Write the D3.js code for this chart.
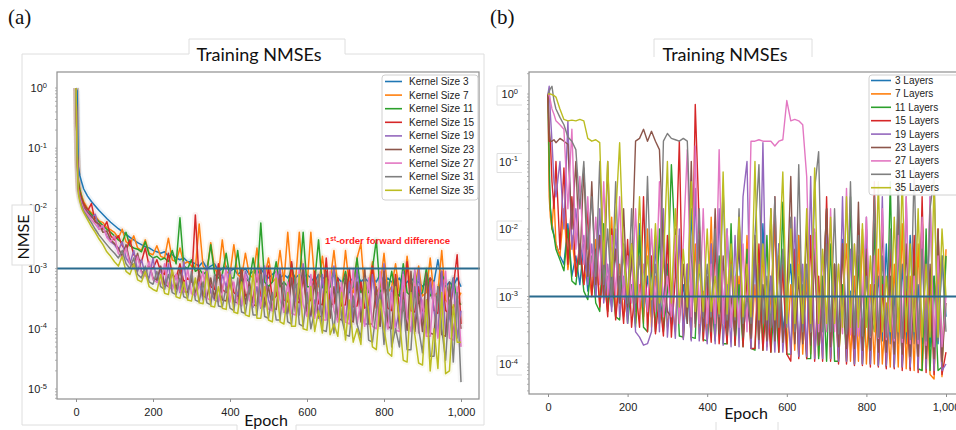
<!DOCTYPE html>
<html>
<head>
<meta charset="utf-8">
<script src="https://cdn.jsdelivr.net/npm/d3@7/dist/d3.min.js"></script>
<style>
body { margin: 0; background: #fff; }
</style>
</head>
<body>
<svg width="956" height="430" font-family="Liberation Sans, Arial, sans-serif"></svg>
<script>
// ---- data ----
var epochs = [0,3,6,10,15,20,
  30,40,50,60,70,80,90,100,
  110,120,130,140,150,160,170,180,190,200,
  210,220,230,240,250,260,270,280,290,300,
  310,320,330,340,350,360,370,380,390,400,
  410,420,430,440,450,460,470,480,490,500,
  510,520,530,540,550,560,570,580,590,600,
  610,620,630,640,650,660,670,680,690,700,
  710,720,730,740,750,760,770,780,790,800,
  810,820,830,840,850,860,870,880,890,900,
  910,920,930,940,950,960,970,980,990,1000];

var kernelLabels = ["Kernel Size 3","Kernel Size 7","Kernel Size 11","Kernel Size 15","Kernel Size 19",
  "Kernel Size 23","Kernel Size 27","Kernel Size 31","Kernel Size 35"];
var layerLabels = ["3 Layers","7 Layers","11 Layers","15 Layers","19 Layers",
  "23 Layers","27 Layers","31 Layers","35 Layers"];
var xTicks = [0,200,400,600,800,1000];
var yTickExpA = [0,-1,-2,-3,-4,-5];
var yTickExpB = [0,-1,-2,-3,-4];
var threshold = 1e-3;

// (a) kernel size
var nmseK3 = [1,0.9,0.05,0.035,0.027,0.021,
  0.016,0.013,0.011,0.0092,0.0079,0.0068,0.0059,0.0052,
  4.6e-3,4.1e-3,3.7e-3,3.3e-3,3e-3,2.7e-3,2.5e-3,2.3e-3,2.2e-3,2e-3,
  1.9e-3,1.8e-3,1.9e-3,1.6e-3,1.7e-3,1.5e-3,1.4e-3,1.5e-3,1.3e-3,1.3e-3,
  1.2e-3,1.1e-3,1.3e-3,1e-3,1.1e-3,1.2e-3,9e-4,1e-3,1.1e-3,9e-4,
  1e-3,8e-4,9e-4,1e-3,8e-4,9e-4,8e-4,1e-3,8e-4,7e-4,
  8e-4,9e-4,7e-4,8e-4,7e-4,9e-4,7e-4,8e-4,7e-4,8e-4,
  7e-4,6e-4,8e-4,7e-4,7e-4,6e-4,8e-4,7e-4,6e-4,7e-4,
  6e-4,7e-4,8e-4,6e-4,7e-4,6e-4,7e-4,6e-4,8e-4,6e-4,
  7e-4,6e-4,6e-4,7e-4,5e-4,6e-4,7e-4,6e-4,6e-4,5e-4,
  6e-4,7e-4,6e-4,1.4e-3,6e-4,5e-4,6e-4,5e-4,7e-4,5e-4];
var nmseK7 = [1,0.1,0.03,0.021,0.016,0.013,
  0.01,0.0085,0.0075,0.0062,0.0058,0.0048,0.0044,0.004,
  3.2e-3,4.5e-3,2.8e-3,2.5e-3,3.5e-3,2.2e-3,2e-3,3e-3,1.8e-3,1.7e-3,
  2.4e-3,1.6e-3,1.5e-3,3.2e-3,1.4e-3,1.3e-3,2.2e-3,1.2e-3,1.3e-3,1.1e-3,
  1e-3,5.5e-3,1.1e-3,9e-4,2.7e-3,1e-3,8e-4,3e-3,9e-4,8e-4,
  2.5e-3,8e-4,7e-4,1.8e-3,8e-4,7e-4,2.2e-3,6e-4,7e-4,1.5e-3,
  6e-4,7e-4,2e-3,6e-4,4e-3,7e-4,6e-4,4e-3,6e-4,5e-4,
  4e-3,6e-4,5e-4,1.6e-3,5e-4,6e-4,2e-3,5e-4,4e-4,2e-3,
  5e-4,4e-4,1.5e-3,2.6e-3,4e-4,5e-4,1.3e-3,4e-4,5e-4,1.8e-3,
  4e-4,5e-4,1.2e-3,4e-4,3.5e-4,1.6e-3,4e-4,5e-4,1.1e-3,3.5e-4,
  4e-4,1.5e-3,3.5e-4,4e-4,2e-3,3e-4,2.5e-4,2.2e-4,3e-4,4e-4];
var nmseK11 = [1,0.08,0.028,0.02,0.015,0.012,
  0.0095,0.008,0.007,0.006,0.0052,0.0045,0.004,0.0035,
  3e-3,2.7e-3,4e-3,2.4e-3,2.2e-3,2.1e-3,1.9e-3,2.8e-3,1.7e-3,1.5e-3,
  1.6e-3,1.4e-3,1.5e-3,1.3e-3,2e-3,1.2e-3,7e-3,1.1e-3,1e-3,1.4e-3,
  9e-4,1e-3,8e-4,9e-4,2.5e-3,8e-4,7e-4,8e-4,1.8e-3,7e-4,
  7e-4,2e-3,6e-4,7e-4,6e-4,1.5e-3,6e-4,5.7e-3,6e-4,5e-4,
  6e-4,1.3e-3,5e-4,6e-4,5e-4,1.2e-3,5e-4,6e-4,4e-3,5e-4,
  5e-4,6e-4,3e-3,5e-4,4e-4,5e-4,1e-3,4e-4,5e-4,9e-4,
  4e-4,5e-4,1.5e-3,4e-4,5e-4,4e-4,1e-3,3e-3,4e-4,5e-4,
  4e-4,9e-4,4e-4,3.5e-4,1.2e-3,4e-4,3.5e-4,9e-4,3.5e-4,4e-4,
  1e-3,3.5e-4,4e-4,3e-4,8e-4,6e-4,3.5e-4,7e-4,3e-4,2.5e-4];
var nmseK15 = [1,0.09,0.025,0.018,0.014,0.012,
  0.009,0.012,0.006,0.0055,0.0045,0.006,0.0035,0.003,
  3.5e-3,2.4e-3,2e-3,3e-3,1.7e-3,1.5e-3,1.3e-3,2.2e-3,1.1e-3,1e-3,
  1.4e-3,9e-4,8e-4,1.8e-3,8e-4,7e-4,1.2e-3,6e-4,7e-4,6e-4,
  7.8e-3,6e-4,5e-4,9e-4,5e-4,4.5e-4,1.2e-3,4.5e-4,4e-4,8e-4,
  4e-4,3.5e-4,1e-3,3.5e-4,4e-4,3e-4,9e-4,3.5e-4,3e-4,1.1e-3,
  3e-4,3.5e-4,8e-4,3e-4,2.8e-4,1.3e-3,3e-4,2.7e-4,7e-4,2.6e-4,
  3e-4,9e-4,2.6e-4,2.5e-4,1.5e-3,2.5e-4,2.6e-4,7e-4,2.4e-4,2.5e-4,
  1e-3,2.3e-4,2.4e-4,6e-4,2.2e-4,2.4e-4,1.1e-3,2.2e-4,2.1e-4,6e-4,
  2.2e-4,2e-4,8e-4,2.1e-4,2e-4,1.3e-3,2e-4,1.9e-4,5e-4,2e-4,
  1.9e-4,7e-4,2e-4,1.8e-4,9e-4,2e-4,1.8e-4,5e-4,1.7e-3,1.2e-4];
var nmseK19 = [1,0.08,0.02,0.015,0.012,0.01,
  0.009,0.007,0.008,0.0045,0.005,0.0035,0.0028,0.0025,
  2e-3,2.8e-3,1.5e-3,1.2e-3,2e-3,9e-4,1.4e-3,8e-4,7e-4,1.5e-3,
  6e-4,1e-3,5e-4,1.2e-3,4.5e-4,8e-4,4e-4,1.3e-3,4e-4,7e-4,
  3.5e-4,6e-4,3e-4,1.1e-3,4e-4,3e-4,2.8e-4,8e-4,5e-4,1e-3,
  2.5e-4,4e-4,2.4e-4,9e-4,6e-4,2.3e-4,5e-4,2.2e-4,1.1e-3,3e-4,
  2e-4,5e-4,1e-3,1.9e-4,1.8e-4,7e-4,3e-4,1.7e-4,1.2e-3,4e-4,
  1.6e-4,3e-4,1.5e-4,8e-4,1.5e-4,2.5e-4,1.1e-3,1.4e-4,4e-4,1.3e-4,
  6e-4,1.3e-4,1e-3,2e-4,1.2e-4,1.2e-4,8e-4,3e-4,1.1e-4,1.2e-3,
  1e-4,5e-4,1e-4,2e-4,9e-4,9.5e-5,4e-4,9e-5,1e-3,1.5e-4,
  8.5e-5,6e-4,2e-4,8e-5,9e-4,8e-5,1.5e-4,7e-4,7e-5,2e-4];
var nmseK23 = [1,0.08,0.022,0.016,0.013,0.0105,
  0.0085,0.0075,0.006,0.0055,0.004,0.0042,0.003,0.0026,
  2.2e-3,1.6e-3,2.5e-3,1.3e-3,1.1e-3,1.8e-3,9e-4,8e-4,1.2e-3,7e-4,
  6.5e-4,1.1e-3,5.5e-4,5e-4,9e-4,4.5e-4,1e-3,4.2e-4,4e-4,7e-4,
  3.8e-4,9e-4,3.5e-4,3.3e-4,7e-4,3.2e-4,1e-3,3e-4,2.9e-4,6e-4,
  2.8e-4,2.7e-4,9e-4,2.6e-4,6e-4,2.5e-4,2.4e-4,1e-3,2.3e-4,5e-4,
  2.2e-4,2.1e-4,8e-4,2e-4,1.9e-4,7e-4,1.9e-4,4e-4,1e-3,1.8e-4,
  1.7e-4,6e-4,1.6e-4,1.6e-4,9e-4,1.5e-4,5e-4,1.5e-4,1.4e-4,8e-4,
  1.4e-4,1.3e-4,6e-4,1.3e-4,1e-3,1.2e-4,1.2e-4,5e-4,1.1e-4,9e-4,
  1.1e-4,1e-4,7e-4,1e-4,4e-4,9.5e-5,9e-4,9e-5,3.5e-4,9e-5,
  8.5e-4,8.5e-5,8e-5,5e-4,8e-5,7.5e-5,6e-4,7.5e-5,3e-4,1e-4];
var nmseK27 = [1,0.08,0.021,0.015,0.012,0.0098,
  0.008,0.0065,0.0055,0.0045,0.0052,0.0033,0.0028,0.0035,
  1.8e-3,1.5e-3,2.2e-3,1.2e-3,1e-3,1.6e-3,8.5e-4,7.5e-4,1.3e-3,6.5e-4,
  6e-4,5.5e-4,1.2e-3,5e-4,4.5e-4,8e-4,4.2e-4,4e-4,1e-3,3.8e-4,
  3.6e-4,5e-4,9e-4,3.2e-4,3e-4,7e-4,2.9e-4,4e-4,1e-3,2.8e-4,
  6e-4,2.6e-4,2.5e-4,8e-4,3e-4,2.4e-4,1e-3,2.3e-4,4e-4,2.1e-4,
  2e-4,9e-4,3e-4,1.9e-4,6e-4,1.8e-4,1.7e-4,1e-3,2.5e-4,1.6e-4,
  8e-4,1.5e-4,4e-4,1.4e-4,1.4e-4,9e-4,2e-4,1.3e-4,6e-4,1.3e-4,
  1.2e-4,1e-3,1.2e-4,3e-4,1.1e-4,7e-4,1.1e-4,1e-4,9e-4,2e-4,
  1e-4,4e-4,9.5e-5,9e-5,8e-4,1.5e-4,9e-5,1e-3,8.5e-5,3e-4,
  7.5e-5,7.5e-5,6e-4,7e-5,2e-4,9e-4,7e-5,6.5e-5,5e-4,5e-5];
var nmseK31 = [1,0.08,0.02,0.014,0.011,0.009,
  0.0072,0.0058,0.0045,0.0036,0.003,0.0025,0.0021,0.0018,
  1.5e-3,2e-3,1.2e-3,1e-3,1.5e-3,8e-4,7e-4,1.1e-3,6e-4,5.5e-4,
  9e-4,5e-4,4.5e-4,8e-4,4e-4,3.7e-4,7e-4,3.4e-4,3.2e-4,9e-4,
  3e-4,2.8e-4,6e-4,2.7e-4,2.5e-4,8e-4,2.4e-4,2.3e-4,5e-4,2.2e-4,
  2e-4,7e-4,1.9e-4,1.8e-4,5e-4,1.7e-4,1.7e-4,8e-4,1.6e-4,1.5e-4,
  4e-4,1.4e-4,1.4e-4,6e-4,1.3e-4,1.2e-4,7e-4,1.2e-4,1.1e-4,4e-4,
  1e-4,2e-4,8e-4,9.5e-5,9e-5,3e-4,8.5e-5,6e-4,1.5e-4,8e-5,
  7.5e-5,3.5e-4,1.2e-4,7e-5,7e-4,6.5e-5,6e-5,2e-4,4e-4,5.5e-5,
  6e-4,5e-5,1e-4,5e-5,3e-4,4.5e-5,4.5e-5,5e-4,1e-4,4e-5,
  3e-4,3.5e-5,3.5e-5,5e-4,1e-4,3e-5,3e-4,2.8e-5,4e-4,1.3e-5];
var nmseK35 = [1,0.06,0.018,0.013,0.01,0.0085,
  0.0065,0.005,0.004,0.0031,0.0025,0.0019,0.0016,0.0013,
  1.1e-3,1.6e-3,9e-4,8e-4,1.2e-3,6.5e-4,6e-4,9e-4,5e-4,4.5e-4,
  4.2e-4,8e-4,3.9e-4,3.7e-4,1e-3,3.4e-4,3.2e-4,6e-4,3e-4,2.9e-4,
  7e-4,2.7e-4,2.6e-4,9e-4,2.4e-4,2.3e-4,5e-4,2.2e-4,2.1e-4,8e-4,
  1.9e-4,1.8e-4,6e-4,1.7e-4,1.6e-4,9e-4,1.5e-4,1.5e-4,5e-4,1.4e-4,
  1.3e-4,7e-4,1.3e-4,1.2e-4,4e-4,1.1e-4,1.1e-4,8e-4,1e-4,9.5e-5,
  5e-4,9e-5,2e-4,8.5e-5,7e-4,8e-5,1.2e-4,7.5e-5,4e-4,6.5e-5,
  3e-4,6e-5,1e-4,5.5e-5,6e-4,2e-4,5e-5,4.5e-5,3e-4,1e-4,
  4e-5,3.5e-5,5e-4,1.5e-4,3e-5,2.8e-5,4e-4,8e-5,2.7e-5,2.5e-5,
  3e-4,2e-5,1e-4,2.2e-5,4e-4,1.8e-5,2e-5,2.5e-4,6e-5,6e-5];

// (b) number of layers
var nmseL3 = [1,0.05,0.02,0.012,0.008,0.006,
  0.004,0.003,0.012,0.002,0.004,0.0015,0.006,0.0012,
  3e-3,1e-3,8e-3,9e-4,2e-3,7e-4,5e-3,8e-4,1.5e-3,6e-4,
  4e-3,6e-4,1.2e-2,5e-4,2e-3,5e-4,6e-3,4e-4,1e-3,3e-3,
  4e-4,8e-3,5e-4,1.5e-3,4e-4,2e-2,4e-4,3e-3,5e-4,1e-3,
  6e-3,3.5e-4,2e-3,4e-4,1e-2,3.5e-4,1.5e-3,5e-3,3e-4,8e-4,
  3e-4,4e-3,3e-4,1.2e-2,4e-4,2e-3,3e-4,6e-3,3e-4,1e-3,
  3e-3,2.5e-4,8e-3,3e-4,1.5e-3,2.5e-4,5e-3,3e-4,1e-3,2e-2,
  2.5e-4,3e-3,2.5e-4,7e-3,2.5e-4,1.2e-3,3e-4,4e-3,2.2e-4,1e-2,
  2.2e-4,4e-4,2e-3,2.2e-4,6e-3,2e-4,1e-3,2e-4,3e-3,2e-4,
  8e-3,2e-4,1.5e-3,2e-4,5e-3,1.8e-4,2e-3,2e-4,4e-3,5e-4];
var nmseL7 = [1,0.03,0.015,0.01,0.03,0.006,
  0.004,0.02,0.0025,0.008,0.002,0.005,0.0015,0.003,
  1e-3,7e-3,8e-4,2e-3,6e-4,1.5e-2,5e-4,3e-3,5e-4,1e-3,
  6e-3,4e-4,1.5e-3,4e-4,1e-2,3.5e-4,2e-3,4e-4,5e-3,3.5e-4,
  1e-3,3e-4,8e-3,3e-4,2e-3,3e-4,6e-3,2.8e-4,1.2e-3,2.5e-4,
  1.5e-2,2.5e-4,3e-3,2.5e-4,1e-3,6e-3,2.2e-4,2e-3,2.2e-4,8e-3,
  2e-4,1.5e-3,2e-4,5e-3,1.8e-4,1e-3,1.2e-2,1.8e-4,3e-3,1.6e-4,
  1.5e-3,1.6e-4,8e-3,1.4e-4,2e-3,1.4e-4,5e-3,1.3e-4,1e-3,2e-2,
  1.2e-4,3e-3,1.2e-4,8e-4,6e-3,1.1e-4,2e-3,1.1e-4,1e-2,1e-4,
  1.5e-3,1e-4,5e-3,1e-4,8e-4,9e-5,3e-3,9e-5,1.2e-2,8.5e-5,
  2e-3,8e-5,6e-3,8e-5,1e-3,7e-5,6e-5,3e-3,6.5e-5,5e-3];
var nmseL11 = [1,0.1,0.02,0.01,0.008,0.005,
  0.0035,0.0024,0.01,0.0017,0.0015,0.005,0.0012,0.0009,
  4e-3,8e-4,6e-4,1.2e-2,6e-4,2e-3,5e-4,4.5e-4,6e-3,4e-4,
  1.5e-3,3.5e-4,8e-3,3.5e-4,3e-4,3e-3,3e-4,1e-2,3e-4,1.2e-3,
  9e-2,5e-3,2.6e-4,2.5e-4,2e-3,2.5e-4,2.4e-4,7e-3,2.3e-4,2.2e-4,
  1e-3,2.2e-4,4e-3,2e-4,2e-4,1.2e-2,1.9e-4,1.5e-3,1.8e-4,5e-3,
  1.7e-4,1.6e-4,3e-3,1.6e-4,8e-3,1.5e-4,1e-3,1.5e-4,2.5e-2,1.4e-4,
  1.4e-4,4e-3,1.3e-4,1.5e-3,1.2e-4,1.2e-4,9e-3,1.2e-4,2e-3,1.1e-4,
  6e-3,1.1e-4,1.1e-4,1.5e-3,1.1e-4,3e-2,1e-4,4e-3,1e-4,1e-3,
  1e-4,1.2e-2,9.5e-5,2e-3,9e-5,5e-2,9e-5,6e-3,9e-5,1.5e-3,
  8.5e-5,4e-3,8.5e-5,8e-5,1e-2,8e-5,2e-3,8e-5,9e-5,4e-3];
var nmseL15 = [1,0.2,0.2,0.05,0.02,0.1,
  0.005,0.08,0.003,0.03,0.002,0.006,0.0015,0.02,
  1e-3,5e-3,7e-4,3e-3,5e-4,1e-2,4.5e-4,2e-3,4e-4,7e-3,
  3.5e-4,1.5e-3,3.5e-4,3e-2,3e-4,4e-3,2.8e-4,1e-3,2.6e-4,8e-3,
  2.5e-4,2e-3,0.2,2.4e-4,3e-3,2.3e-4,0.7,1.2e-2,2.2e-4,1.5e-3,
  2.1e-4,6e-3,2e-4,1e-3,2e-4,4e-3,1.9e-4,1.5e-2,1.8e-4,2e-3,
  1.7e-4,1.7e-4,6e-3,1.6e-4,1e-3,1.5e-4,3e-2,1.5e-4,3e-3,1.4e-4,
  1.1e-4,5e-3,1.2e-4,1.2e-3,1.2e-4,8e-3,1.1e-4,2e-3,1.1e-4,3e-2,
  1.1e-4,1.5e-3,1e-4,6e-3,1e-4,1e-3,9.5e-5,1.2e-2,9.5e-5,3e-3,
  9e-5,5e-2,9e-5,1.5e-3,8.5e-5,6e-3,8.5e-5,3e-2,8e-5,1.2e-3,
  8e-5,8e-3,7.5e-5,3e-2,7.5e-5,2e-3,7e-5,1e-2,7e-5,1.5e-4];
var nmseL19 = [1,1.3,0.5,0.2,0.05,0.03,
  0.1,0.01,0.4,0.005,0.02,0.003,0.008,0.0015,
  6e-3,1e-3,2e-2,8e-4,3e-3,6e-4,1e-2,5e-4,2e-3,4e-4,
  5e-3,3e-4,2.5e-4,1.9e-4,2e-4,3e-4,8e-3,3e-4,2e-2,2.5e-4,
  1.5e-3,2.4e-4,1e-2,2.3e-4,3e-3,2.2e-4,4e-2,2.2e-4,1e-3,2e-4,
  6e-3,2e-4,2e-2,1.9e-4,1.5e-3,1.8e-4,8e-3,1.8e-4,3e-2,1e-1,
  1.7e-4,4e-3,1.7e-4,1.9e-1,1.6e-4,2e-3,1.5e-4,6e-3,1.5e-4,1e-3,
  1.4e-4,1.5e-2,1.3e-4,3e-3,1.3e-4,6e-2,1.2e-4,1e-3,1.2e-4,8e-3,
  1.2e-4,2e-3,1.1e-4,3e-2,1.1e-4,5e-3,1e-4,1e-3,1e-4,1.5e-2,
  1e-4,3e-3,9.5e-5,3e-2,9.5e-5,1.5e-3,9e-5,1e-2,9e-5,3e-2,
  9e-5,2e-3,8.5e-5,6e-3,8.5e-5,3e-2,8e-5,1.5e-3,8e-5,1e-4];
var nmseL23 = [1,0.3,0.2,0.2,0.21,0.19,
  0.22,0.2,0.18,0.01,0.1,0.003,0.08,0.002,
  0.05,1.5e-3,8e-3,1e-3,0.1,1e-3,5e-3,8e-4,2e-2,7e-4,
  3e-3,0.2,0.22,0.3,0.2,0.28,0.2,0.15,5e-3,6e-4,
  5e-4,1e-2,4e-4,3e-3,4e-4,0.1,3.5e-4,8e-3,3e-4,2e-3,
  3e-4,2e-2,2.8e-4,4e-3,2.7e-4,1e-3,2.6e-4,1.2e-2,2.5e-4,3e-3,
  2.4e-4,8e-3,2.3e-4,1.5e-3,2.2e-4,2e-2,2.2e-4,4e-3,2.1e-4,1e-3,
  6e-2,2e-4,2e-3,2e-4,1.2e-2,1.9e-4,4e-3,1.9e-4,8e-4,2e-2,
  1.8e-4,3e-3,1.8e-4,6e-3,1.7e-4,1e-3,1.7e-4,2.5e-2,1.6e-4,5e-3,
  1.6e-4,1.5e-3,1.5e-4,1.2e-2,1.5e-4,2e-3,1.4e-4,3e-2,1.4e-4,6e-3,
  1.3e-4,1e-3,1.3e-4,1.5e-2,1.2e-4,3e-3,1.2e-4,1e-2,1.1e-4,8e-4];
var nmseL27 = [1,0.95,0.8,0.6,0.5,0.4,
  0.35,0.3,0.02,0.3,0.005,0.06,0.003,0.03,
  2e-3,1.5e-2,1.5e-3,0.05,1e-3,8e-3,1e-3,0.03,9e-4,4e-3,
  8e-4,2e-2,7e-4,3e-3,6e-4,1e-2,6e-4,0.05,5e-4,2e-3,
  5e-4,8e-3,4e-4,6e-3,0.15,5e-4,0.17,4e-4,0.02,4e-4,
  3e-3,4e-4,0.15,4e-4,1e-2,3.5e-4,2e-3,3.5e-4,6e-3,3e-4,
  0.2,0.2,0.21,0.2,0.2,0.2,0.17,0.2,0.21,0.8,
  0.4,0.42,0.4,0.35,0.06,3e-4,1e-2,3e-4,4e-3,3e-4,
  2e-2,3e-4,3e-3,2.8e-4,0.04,2.7e-4,6e-3,2.6e-4,1e-3,1.5e-2,
  2.5e-4,4e-3,2.4e-4,2e-2,2.3e-4,1e-3,2.2e-4,8e-3,2.1e-4,3e-2,
  2e-4,2e-3,2e-4,1.5e-2,1.9e-4,3e-2,1.8e-4,4e-3,1.8e-4,1e-3];
var nmseL31 = [1,1.1,1.2,1.3,0.8,0.6,
  0.45,0.35,0.23,0.2,0.15,0.02,0.1,0.005,
  0.03,2e-3,0.1,1.5e-3,1e-2,1e-3,0.05,1e-3,5e-3,8e-4,
  2e-2,8e-4,4e-3,7e-4,0.06,7e-4,3e-3,6e-4,0.2,0.26,
  0.22,0.21,0.2,0.22,0.2,4e-3,6e-4,2e-2,5e-4,3e-3,
  5e-4,1e-2,5e-4,4e-2,4.5e-4,3e-3,4.5e-4,0.02,4e-4,1e-3,
  4e-4,8e-3,0.09,4e-4,2e-3,3.5e-4,0.03,3.5e-4,5e-3,3.5e-4,
  1.5e-2,3e-4,0.09,3e-4,3e-3,3e-4,0.04,0.14,3e-4,6e-3,
  3e-4,2e-2,2.8e-4,1e-3,2.8e-4,0.05,2.7e-4,8e-3,2.6e-4,2e-3,
  2.6e-4,3e-2,2.5e-4,4e-3,2.5e-4,1e-2,2.4e-4,0.05,2.4e-4,2e-3,
  2.3e-4,8e-2,2.3e-4,5e-3,2.2e-4,2e-2,0.06,2.2e-4,4e-3,3e-4];
var nmseL35 = [1,1,1,0.98,0.95,0.9,
  0.6,0.42,0.4,0.41,0.4,0.42,0.4,0.22,
  0.2,0.21,0.19,3e-3,0.1,2e-3,1.5e-2,0.19,4e-3,1e-3,
  6e-3,1e-3,0.03,1e-3,4e-3,9e-4,1.2e-2,8e-4,3e-3,0.1,
  8e-4,2e-2,7e-4,5e-3,7e-4,0.05,6e-4,3e-3,6e-4,1e-2,
  6e-4,2e-3,5.5e-4,0.07,5.5e-4,6e-3,5e-4,1.5e-2,5e-4,3e-3,
  5e-4,0.1,4.5e-4,6e-3,4.5e-4,2e-2,4.5e-4,3e-3,0.07,4e-4,
  1e-2,4e-4,3e-3,4e-4,2e-2,4e-4,0.08,4e-4,5e-3,4e-4,
  1.5e-2,4e-4,3e-3,3.5e-4,0.03,3.5e-4,6e-3,3.5e-4,1.2e-2,3.5e-4,
  4e-3,3e-4,0.05,3e-4,2e-3,3e-4,1.5e-2,3e-4,0.06,3e-4,
  6e-3,3e-4,0.02,2.5e-4,3e-3,2.5e-4,0.05,2.5e-4,1e-2,1e-3];

var colors = ["#1f77b4","#ff7f0e","#2ca02c","#d62728","#9467bd","#8c564b","#e377c2","#7f7f7f","#bcbd22"];

var svg = d3.select("svg");
var artifact = "#dedede";

// スクリーンショットの枠 (薄いグレー)
function framePath(d) {
  svg.append("path").attr("d", d).attr("fill", "none")
    .attr("stroke", artifact).attr("stroke-width", 1);
}
framePath("M22,425 V54 H189 V39 H345 V54 H484 V425 H296 V430 M237,430 V425 H22");
framePath("M654,57 V39 H812 V57");
framePath("M716,422 V430 M778,422 V430");

function drawPanel(p) {
  var x = d3.scaleLinear().domain([0, 1000]).range(p.xRange);
  var y = d3.scaleLog().domain([1, Math.pow(10, p.yExp[p.yExp.length - 1])]).range(p.yRange);
  var box = p.box; // [left, top, right, bottom]

  svg.append("clipPath").attr("id", p.id)
    .append("rect")
    .attr("x", box[0]).attr("y", box[1])
    .attr("width", box[2] - box[0]).attr("height", box[3] - box[1]);

  // 1. 線
  var line = d3.line()
    .x(function(d, i) { return x(epochs[i]); })
    .y(function(d) { return y(d); });

  var lg = svg.append("g").attr("clip-path", "url(#" + p.id + ")");
  if (p.halo) {
    p.series.forEach(function(s, k) {
      lg.append("path").attr("d", line(s)).attr("fill", "none")
        .attr("stroke", colors[k]).attr("stroke-width", 6)
        .attr("stroke-opacity", 0.07).attr("stroke-linejoin", "round");
    });
  }
  p.series.forEach(function(s, k) {
    lg.append("path").attr("d", line(s)).attr("fill", "none")
      .attr("stroke", colors[k]).attr("stroke-width", p.lw)
      .attr("stroke-linejoin", "round");
  });

  // 2. 1e-3 の線
  svg.append("line")
    .attr("x1", box[0]).attr("x2", p.hlineEnd)
    .attr("y1", y(threshold)).attr("y2", y(threshold))
    .attr("stroke", "#2a6b8e").attr("stroke-width", 2);

  // 3. 枠
  svg.append("rect")
    .attr("x", box[0]).attr("y", box[1])
    .attr("width", box[2] - box[0]).attr("height", box[3] - box[1])
    .attr("fill", "none").attr("stroke", "#8f8f8f").attr("stroke-width", 1.2);

  // 4. x軸
  var xa = svg.append("g")
    .attr("transform", "translate(0," + box[3] + ")")
    .call(d3.axisBottom(x).tickValues(xTicks).tickSize(3).tickPadding(6));
  xa.select(".domain").remove();
  xa.selectAll("line").attr("stroke", "#8f8f8f");
  xa.attr("font-size", 11).attr("font-family", "Liberation Sans, Arial, sans-serif");
  xa.selectAll("text").attr("fill", "#222");

  // 5. y軸 (補助目盛り)
  var yFull = d3.scaleLog().domain([y.invert(box[3]), y.invert(box[1])]);
  svg.append("g").selectAll("line")
    .data(yFull.ticks())
    .enter().append("line")
    .attr("x1", box[0] - 2).attr("x2", box[0])
    .attr("y1", function(d) { return y(d); })
    .attr("y2", function(d) { return y(d); })
    .attr("stroke", "#a0a0a0").attr("stroke-width", 0.8);

  if (p.labelBoxes) {
    p.yExp.forEach(function(e) {
      var ty = y(Math.pow(10, e));
      svg.append("path")
        .attr("d", "M" + (p.labelX + 4) + "," + (ty - 8) + " H" + (p.labelX - 21) +
          " V" + (ty + 11) + " H" + (p.labelX + 4))
        .attr("fill", "white").attr("stroke", artifact);
    });
  }

  var yl = svg.append("g").selectAll("text")
    .data(p.yExp)
    .enter().append("text")
    .attr("x", p.labelX)
    .attr("y", function(d) { return y(Math.pow(10, d)) + 4; })
    .attr("text-anchor", "end")
    .attr("font-size", 11).attr("fill", "#222");
  yl.append("tspan").text("10");
  yl.append("tspan").attr("dy", -4.5).attr("font-size", 7.5)
    .text(function(d) { return d === 0 ? "0" : "-" + Math.abs(d); });

  // 6. 凡例
  var leg = svg.append("g");
  leg.append("rect")
    .attr("x", p.legend.x).attr("y", p.legend.y)
    .attr("width", p.legend.w).attr("height", p.legend.h).attr("rx", 3)
    .attr("fill", "white").attr("fill-opacity", 0.9)
    .attr("stroke", "#d0d0d0");
  p.labels.forEach(function(lab, k) {
    var ly = p.legend.y + p.legend.first + k * p.legend.step;
    leg.append("line")
      .attr("x1", p.legend.lx1).attr("x2", p.legend.lx2)
      .attr("y1", ly).attr("y2", ly)
      .attr("stroke", colors[k]).attr("stroke-width", 1.6);
    leg.append("text")
      .attr("x", p.legend.tx).attr("y", ly + 3.5)
      .attr("font-size", 10).attr("fill", "#222")
      .text(lab);
  });

  // 7. タイトルなど
  svg.append("text")
    .attr("x", p.titleX).attr("y", 61)
    .attr("text-anchor", "middle")
    .attr("font-family", "Lato, sans-serif")
    .attr("font-size", 18).attr("fill", "#111")
    .text("Training NMSEs");
  svg.append("text")
    .attr("x", p.epochX).attr("y", p.epochY)
    .attr("text-anchor", "middle")
    .attr("font-family", "Lato, sans-serif")
    .attr("font-size", 16).attr("fill", "#111")
    .text("Epoch");
  svg.append("text")
    .attr("x", p.tag[0]).attr("y", 24)
    .attr("font-family", "Liberation Serif, DejaVu Serif, serif")
    .attr("font-size", 21).attr("fill", "#111")
    .text(p.tag[1]);
}

drawPanel({
  id: "clipA",
  series: [nmseK3, nmseK7, nmseK11, nmseK15, nmseK19, nmseK23, nmseK27, nmseK31, nmseK35],
  labels: kernelLabels,
  xRange: [76, 461], yRange: [88, 389], yExp: yTickExpA,
  box: [57, 72, 479, 399], hlineEnd: 480,
  labelX: 47, labelBoxes: false, lw: 1.5, halo: true,
  legend: { x: 382, y: 75, w: 96, h: 125, first: 6.5, step: 13.6, lx1: 385, lx2: 402, tx: 409 },
  titleX: 259, epochX: 266, epochY: 426, tag: [8, "(a)"]
});

drawPanel({
  id: "clipB",
  series: [nmseL3, nmseL7, nmseL11, nmseL15, nmseL19, nmseL23, nmseL27, nmseL31, nmseL35],
  labels: layerLabels,
  xRange: [548, 946], yRange: [94, 364], yExp: yTickExpB,
  box: [529, 72, 957, 394], hlineEnd: 956,
  labelX: 518, labelBoxes: true, lw: 1.4, halo: false,
  legend: { x: 869, y: 75, w: 90, h: 120, first: 5.5, step: 13.4, lx1: 871, lx2: 891, tx: 895 },
  titleX: 725, epochX: 746, epochY: 419, tag: [490, "(b)"]
});

// NMSE ラベル (a)
svg.append("rect").attr("x", 12).attr("y", 205).attr("width", 22).attr("height", 60)
  .attr("fill", "white").attr("stroke", artifact);
svg.append("text")
  .attr("transform", "translate(29,237) rotate(-90)")
  .attr("text-anchor", "middle")
  .attr("font-family", "Lato, sans-serif")
  .attr("font-size", 16).attr("fill", "#111")
  .text("NMSE");

// 注記
var note = svg.append("text")
  .attr("x", 325).attr("y", 244)
  .attr("font-size", 9.6).attr("font-weight", "bold").attr("fill", "#ff1f1f");
note.append("tspan").text("1");
note.append("tspan").attr("dy", -3.5).attr("font-size", 6.5).text("st");
note.append("tspan").attr("dy", 3.5).text("-order forward difference");
</script>
</body>
</html>
